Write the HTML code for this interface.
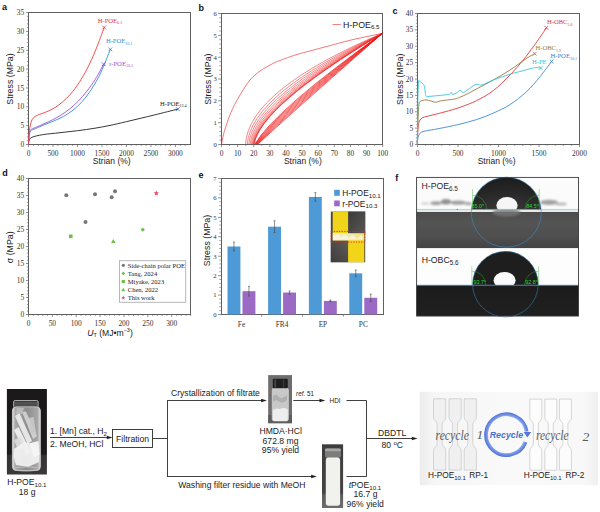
<!DOCTYPE html>
<html><head><meta charset="utf-8"><title>Figure</title><style>
html,body{margin:0;padding:0;background:#fff;width:600px;height:512px;overflow:hidden}
svg{display:block}
</style></head><body>
<svg width="600" height="512" viewBox="0 0 600 512">
<rect width="600" height="512" fill="#fff"/>
<text x="2" y="9.8" font-family='"Liberation Sans", sans-serif' font-size="9" text-anchor="start" fill="#111" font-weight="bold">a</text>
<rect x="28.5" y="12.5" width="162" height="132" fill="none" stroke="#606060" stroke-width="1.0"/>
<line x1="26" y1="144.5" x2="28.5" y2="144.5" stroke="#606060" stroke-width="0.7"/>
<text x="24.2" y="147.1" font-family='"Liberation Serif", serif' font-size="7.4" text-anchor="end" fill="#333">0</text>
<line x1="26" y1="125.65" x2="28.5" y2="125.65" stroke="#606060" stroke-width="0.7"/>
<text x="24.2" y="128.25" font-family='"Liberation Serif", serif' font-size="7.4" text-anchor="end" fill="#333">5</text>
<line x1="26" y1="106.8" x2="28.5" y2="106.8" stroke="#606060" stroke-width="0.7"/>
<text x="24.2" y="109.4" font-family='"Liberation Serif", serif' font-size="7.4" text-anchor="end" fill="#333">10</text>
<line x1="26" y1="87.95" x2="28.5" y2="87.95" stroke="#606060" stroke-width="0.7"/>
<text x="24.2" y="90.55" font-family='"Liberation Serif", serif' font-size="7.4" text-anchor="end" fill="#333">15</text>
<line x1="26" y1="69.1" x2="28.5" y2="69.1" stroke="#606060" stroke-width="0.7"/>
<text x="24.2" y="71.7" font-family='"Liberation Serif", serif' font-size="7.4" text-anchor="end" fill="#333">20</text>
<line x1="26" y1="50.25" x2="28.5" y2="50.25" stroke="#606060" stroke-width="0.7"/>
<text x="24.2" y="52.85" font-family='"Liberation Serif", serif' font-size="7.4" text-anchor="end" fill="#333">25</text>
<line x1="26" y1="31.4" x2="28.5" y2="31.4" stroke="#606060" stroke-width="0.7"/>
<text x="24.2" y="34" font-family='"Liberation Serif", serif' font-size="7.4" text-anchor="end" fill="#333">30</text>
<line x1="26" y1="12.55" x2="28.5" y2="12.55" stroke="#606060" stroke-width="0.7"/>
<text x="24.2" y="15.15" font-family='"Liberation Serif", serif' font-size="7.4" text-anchor="end" fill="#333">35</text>
<line x1="26.9" y1="140.73" x2="28.5" y2="140.73" stroke="#606060" stroke-width="0.6"/>
<line x1="26.9" y1="136.96" x2="28.5" y2="136.96" stroke="#606060" stroke-width="0.6"/>
<line x1="26.9" y1="133.19" x2="28.5" y2="133.19" stroke="#606060" stroke-width="0.6"/>
<line x1="26.9" y1="129.42" x2="28.5" y2="129.42" stroke="#606060" stroke-width="0.6"/>
<line x1="26.9" y1="121.88" x2="28.5" y2="121.88" stroke="#606060" stroke-width="0.6"/>
<line x1="26.9" y1="118.11" x2="28.5" y2="118.11" stroke="#606060" stroke-width="0.6"/>
<line x1="26.9" y1="114.34" x2="28.5" y2="114.34" stroke="#606060" stroke-width="0.6"/>
<line x1="26.9" y1="110.57" x2="28.5" y2="110.57" stroke="#606060" stroke-width="0.6"/>
<line x1="26.9" y1="103.03" x2="28.5" y2="103.03" stroke="#606060" stroke-width="0.6"/>
<line x1="26.9" y1="99.26" x2="28.5" y2="99.26" stroke="#606060" stroke-width="0.6"/>
<line x1="26.9" y1="95.49" x2="28.5" y2="95.49" stroke="#606060" stroke-width="0.6"/>
<line x1="26.9" y1="91.72" x2="28.5" y2="91.72" stroke="#606060" stroke-width="0.6"/>
<line x1="26.9" y1="84.18" x2="28.5" y2="84.18" stroke="#606060" stroke-width="0.6"/>
<line x1="26.9" y1="80.41" x2="28.5" y2="80.41" stroke="#606060" stroke-width="0.6"/>
<line x1="26.9" y1="76.64" x2="28.5" y2="76.64" stroke="#606060" stroke-width="0.6"/>
<line x1="26.9" y1="72.87" x2="28.5" y2="72.87" stroke="#606060" stroke-width="0.6"/>
<line x1="26.9" y1="65.33" x2="28.5" y2="65.33" stroke="#606060" stroke-width="0.6"/>
<line x1="26.9" y1="61.56" x2="28.5" y2="61.56" stroke="#606060" stroke-width="0.6"/>
<line x1="26.9" y1="57.79" x2="28.5" y2="57.79" stroke="#606060" stroke-width="0.6"/>
<line x1="26.9" y1="54.02" x2="28.5" y2="54.02" stroke="#606060" stroke-width="0.6"/>
<line x1="26.9" y1="46.48" x2="28.5" y2="46.48" stroke="#606060" stroke-width="0.6"/>
<line x1="26.9" y1="42.71" x2="28.5" y2="42.71" stroke="#606060" stroke-width="0.6"/>
<line x1="26.9" y1="38.94" x2="28.5" y2="38.94" stroke="#606060" stroke-width="0.6"/>
<line x1="26.9" y1="35.17" x2="28.5" y2="35.17" stroke="#606060" stroke-width="0.6"/>
<line x1="26.9" y1="27.63" x2="28.5" y2="27.63" stroke="#606060" stroke-width="0.6"/>
<line x1="26.9" y1="23.86" x2="28.5" y2="23.86" stroke="#606060" stroke-width="0.6"/>
<line x1="26.9" y1="20.09" x2="28.5" y2="20.09" stroke="#606060" stroke-width="0.6"/>
<line x1="26.9" y1="16.32" x2="28.5" y2="16.32" stroke="#606060" stroke-width="0.6"/>
<line x1="28.5" y1="144.5" x2="28.5" y2="147" stroke="#606060" stroke-width="0.7"/>
<text x="28.5" y="156" font-family='"Liberation Serif", serif' font-size="7.4" text-anchor="middle" fill="#333">0</text>
<line x1="52.98" y1="144.5" x2="52.98" y2="147" stroke="#606060" stroke-width="0.7"/>
<text x="52.98" y="156" font-family='"Liberation Serif", serif' font-size="7.4" text-anchor="middle" fill="#333">500</text>
<line x1="77.47" y1="144.5" x2="77.47" y2="147" stroke="#606060" stroke-width="0.7"/>
<text x="77.47" y="156" font-family='"Liberation Serif", serif' font-size="7.4" text-anchor="middle" fill="#333">1000</text>
<line x1="101.95" y1="144.5" x2="101.95" y2="147" stroke="#606060" stroke-width="0.7"/>
<text x="101.95" y="156" font-family='"Liberation Serif", serif' font-size="7.4" text-anchor="middle" fill="#333">1500</text>
<line x1="126.44" y1="144.5" x2="126.44" y2="147" stroke="#606060" stroke-width="0.7"/>
<text x="126.44" y="156" font-family='"Liberation Serif", serif' font-size="7.4" text-anchor="middle" fill="#333">2000</text>
<line x1="150.93" y1="144.5" x2="150.93" y2="147" stroke="#606060" stroke-width="0.7"/>
<text x="150.93" y="156" font-family='"Liberation Serif", serif' font-size="7.4" text-anchor="middle" fill="#333">2500</text>
<line x1="175.41" y1="144.5" x2="175.41" y2="147" stroke="#606060" stroke-width="0.7"/>
<text x="175.41" y="156" font-family='"Liberation Serif", serif' font-size="7.4" text-anchor="middle" fill="#333">3000</text>
<line x1="33.4" y1="144.5" x2="33.4" y2="146" stroke="#606060" stroke-width="0.6"/>
<line x1="38.29" y1="144.5" x2="38.29" y2="146" stroke="#606060" stroke-width="0.6"/>
<line x1="43.19" y1="144.5" x2="43.19" y2="146" stroke="#606060" stroke-width="0.6"/>
<line x1="48.09" y1="144.5" x2="48.09" y2="146" stroke="#606060" stroke-width="0.6"/>
<line x1="57.88" y1="144.5" x2="57.88" y2="146" stroke="#606060" stroke-width="0.6"/>
<line x1="62.78" y1="144.5" x2="62.78" y2="146" stroke="#606060" stroke-width="0.6"/>
<line x1="67.68" y1="144.5" x2="67.68" y2="146" stroke="#606060" stroke-width="0.6"/>
<line x1="72.57" y1="144.5" x2="72.57" y2="146" stroke="#606060" stroke-width="0.6"/>
<line x1="82.37" y1="144.5" x2="82.37" y2="146" stroke="#606060" stroke-width="0.6"/>
<line x1="87.26" y1="144.5" x2="87.26" y2="146" stroke="#606060" stroke-width="0.6"/>
<line x1="92.16" y1="144.5" x2="92.16" y2="146" stroke="#606060" stroke-width="0.6"/>
<line x1="97.06" y1="144.5" x2="97.06" y2="146" stroke="#606060" stroke-width="0.6"/>
<line x1="106.85" y1="144.5" x2="106.85" y2="146" stroke="#606060" stroke-width="0.6"/>
<line x1="111.75" y1="144.5" x2="111.75" y2="146" stroke="#606060" stroke-width="0.6"/>
<line x1="116.65" y1="144.5" x2="116.65" y2="146" stroke="#606060" stroke-width="0.6"/>
<line x1="121.54" y1="144.5" x2="121.54" y2="146" stroke="#606060" stroke-width="0.6"/>
<line x1="131.34" y1="144.5" x2="131.34" y2="146" stroke="#606060" stroke-width="0.6"/>
<line x1="136.23" y1="144.5" x2="136.23" y2="146" stroke="#606060" stroke-width="0.6"/>
<line x1="141.13" y1="144.5" x2="141.13" y2="146" stroke="#606060" stroke-width="0.6"/>
<line x1="146.03" y1="144.5" x2="146.03" y2="146" stroke="#606060" stroke-width="0.6"/>
<line x1="155.82" y1="144.5" x2="155.82" y2="146" stroke="#606060" stroke-width="0.6"/>
<line x1="160.72" y1="144.5" x2="160.72" y2="146" stroke="#606060" stroke-width="0.6"/>
<line x1="165.62" y1="144.5" x2="165.62" y2="146" stroke="#606060" stroke-width="0.6"/>
<line x1="170.51" y1="144.5" x2="170.51" y2="146" stroke="#606060" stroke-width="0.6"/>
<line x1="180.31" y1="144.5" x2="180.31" y2="146" stroke="#606060" stroke-width="0.6"/>
<line x1="185.2" y1="144.5" x2="185.2" y2="146" stroke="#606060" stroke-width="0.6"/>
<text transform="translate(13,79) rotate(-90)" font-family='"Liberation Sans", sans-serif' font-size="8.8" text-anchor="middle" fill="#1a1a1a">Stress (MPa)</text>
<text x="111.75" y="164.2" font-family='"Liberation Sans", sans-serif' font-size="8.5" text-anchor="middle" fill="#1a1a1a">Strian (%)</text>
<path d="M28.5,144.5 C28.57,143.88 28.32,142 28.9,140.8 C29.48,139.6 29.72,138.32 32,137.3 C34.28,136.28 37.93,135.47 42.6,134.7 C47.27,133.93 54.15,133.37 60,132.7 C65.85,132.03 71.87,131.45 77.7,130.7 C83.53,129.95 89.62,129.08 95,128.2 C100.38,127.32 104.72,126.5 110,125.4 C115.28,124.3 119.33,123.33 126.7,121.6 C134.07,119.87 145.68,117.08 154.2,115 C162.72,112.92 173.87,110.08 177.8,109.1" fill="none" stroke="#222" stroke-width="0.9"/>
<path d="M28.5,144.5 C28.6,143.08 28.75,138.25 29.1,136 C29.45,133.75 29.53,132.23 30.6,131 C31.67,129.77 33.13,129.67 35.5,128.6 C37.87,127.53 41.68,125.9 44.8,124.6 C47.92,123.3 51.07,122.17 54.2,120.8 C57.33,119.43 60.48,118.17 63.6,116.4 C66.72,114.63 69.8,112.68 72.9,110.2 C76,107.72 79.08,105.02 82.2,101.5 C85.32,97.98 88.47,93.98 91.6,89.1 C94.73,84.22 97.88,78.82 101,72.2 C104.12,65.58 108.75,53.2 110.3,49.4" fill="none" stroke="#2f8ddc" stroke-width="0.9"/>
<path d="M28.5,144.5 C28.58,143.08 28.7,138.37 29,136 C29.3,133.63 29.22,131.72 30.3,130.3 C31.38,128.88 33.22,128.58 35.5,127.5 C37.78,126.42 41.15,125.08 44,123.8 C46.85,122.52 49.75,121.27 52.6,119.8 C55.45,118.33 58.27,116.8 61.1,115 C63.93,113.2 66.77,111.28 69.6,109 C72.43,106.72 75.27,104.2 78.1,101.3 C80.93,98.4 83.75,95.25 86.6,91.6 C89.45,87.95 92.35,83.97 95.2,79.4 C98.05,74.83 102.28,66.73 103.7,64.2" fill="none" stroke="#9c4fd0" stroke-width="0.9"/>
<path d="M28.5,144.5 C28.55,143.08 28.65,138.37 28.8,136 C28.95,133.63 28.87,133 29.4,130.3 C29.93,127.6 30.68,122.3 32,119.8 C33.32,117.3 35.02,116.57 37.3,115.3 C39.58,114.03 42.92,113.38 45.7,112.2 C48.48,111.02 51.22,109.88 54,108.2 C56.78,106.52 59.6,104.5 62.4,102.1 C65.2,99.7 68.02,97.05 70.8,93.8 C73.58,90.55 76.32,86.88 79.1,82.6 C81.88,78.32 84.72,73.58 87.5,68.1 C90.28,62.62 93.02,56.47 95.8,49.7 C98.58,42.93 102.8,31.2 104.2,27.5" fill="none" stroke="#f03c3c" stroke-width="0.9"/>
<line x1="102.3" y1="25.6" x2="106.1" y2="29.4" stroke="#e8333a" stroke-width="0.8"/>
<line x1="102.3" y1="29.4" x2="106.1" y2="25.6" stroke="#e8333a" stroke-width="0.8"/>
<line x1="108.4" y1="47.5" x2="112.2" y2="51.3" stroke="#3a7fd0" stroke-width="0.8"/>
<line x1="108.4" y1="51.3" x2="112.2" y2="47.5" stroke="#3a7fd0" stroke-width="0.8"/>
<line x1="101.8" y1="62.3" x2="105.6" y2="66.1" stroke="#7a3fc0" stroke-width="0.8"/>
<line x1="101.8" y1="66.1" x2="105.6" y2="62.3" stroke="#7a3fc0" stroke-width="0.8"/>
<line x1="175.9" y1="107.2" x2="179.7" y2="111" stroke="#3a5fb0" stroke-width="0.8"/>
<line x1="175.9" y1="111" x2="179.7" y2="107.2" stroke="#3a5fb0" stroke-width="0.8"/>
<text x="97.7" y="22.5" font-family='"Liberation Serif", serif' font-size="6.6" fill="#e8333a" text-anchor="start">H-POE<tspan font-size="4.09" dy="1.45">6.5</tspan></text>
<text x="105.9" y="43.3" font-family='"Liberation Serif", serif' font-size="6.6" fill="#3a8ad8" text-anchor="start">H-POE<tspan font-size="4.09" dy="1.45">10.1</tspan></text>
<text x="109.2" y="65.6" font-family='"Liberation Serif", serif' font-size="6.6" fill="#9b4fd0" text-anchor="start">r-POE<tspan font-size="4.09" dy="1.45">10.3</tspan></text>
<text x="160.1" y="105.5" font-family='"Liberation Serif", serif' font-size="6.6" fill="#222" text-anchor="start">H-POE<tspan font-size="4.09" dy="1.45">13.4</tspan></text>
<text x="198.5" y="11.3" font-family='"Liberation Sans", sans-serif' font-size="9" text-anchor="start" fill="#111" font-weight="bold">b</text>
<rect x="221.5" y="13.5" width="161" height="131" fill="none" stroke="#606060" stroke-width="1.0"/>
<line x1="218.1" y1="144.5" x2="221.5" y2="144.5" stroke="#606060" stroke-width="0.7"/>
<text x="216.8" y="146.9" font-family='"Liberation Serif", serif' font-size="6.7" text-anchor="end" fill="#333">0</text>
<line x1="218.1" y1="122.67" x2="221.5" y2="122.67" stroke="#606060" stroke-width="0.7"/>
<text x="216.8" y="125.07" font-family='"Liberation Serif", serif' font-size="6.7" text-anchor="end" fill="#333">1</text>
<line x1="218.1" y1="100.84" x2="221.5" y2="100.84" stroke="#606060" stroke-width="0.7"/>
<text x="216.8" y="103.24" font-family='"Liberation Serif", serif' font-size="6.7" text-anchor="end" fill="#333">2</text>
<line x1="218.1" y1="79.01" x2="221.5" y2="79.01" stroke="#606060" stroke-width="0.7"/>
<text x="216.8" y="81.41" font-family='"Liberation Serif", serif' font-size="6.7" text-anchor="end" fill="#333">3</text>
<line x1="218.1" y1="57.18" x2="221.5" y2="57.18" stroke="#606060" stroke-width="0.7"/>
<text x="216.8" y="59.58" font-family='"Liberation Serif", serif' font-size="6.7" text-anchor="end" fill="#333">4</text>
<line x1="218.1" y1="35.35" x2="221.5" y2="35.35" stroke="#606060" stroke-width="0.7"/>
<text x="216.8" y="37.75" font-family='"Liberation Serif", serif' font-size="6.7" text-anchor="end" fill="#333">5</text>
<line x1="218.1" y1="13.52" x2="221.5" y2="13.52" stroke="#606060" stroke-width="0.7"/>
<text x="216.8" y="15.92" font-family='"Liberation Serif", serif' font-size="6.7" text-anchor="end" fill="#333">6</text>
<line x1="219.3" y1="140.13" x2="221.5" y2="140.13" stroke="#606060" stroke-width="0.6"/>
<line x1="219.3" y1="135.77" x2="221.5" y2="135.77" stroke="#606060" stroke-width="0.6"/>
<line x1="219.3" y1="131.4" x2="221.5" y2="131.4" stroke="#606060" stroke-width="0.6"/>
<line x1="219.3" y1="127.04" x2="221.5" y2="127.04" stroke="#606060" stroke-width="0.6"/>
<line x1="219.3" y1="118.3" x2="221.5" y2="118.3" stroke="#606060" stroke-width="0.6"/>
<line x1="219.3" y1="113.94" x2="221.5" y2="113.94" stroke="#606060" stroke-width="0.6"/>
<line x1="219.3" y1="109.57" x2="221.5" y2="109.57" stroke="#606060" stroke-width="0.6"/>
<line x1="219.3" y1="105.21" x2="221.5" y2="105.21" stroke="#606060" stroke-width="0.6"/>
<line x1="219.3" y1="96.47" x2="221.5" y2="96.47" stroke="#606060" stroke-width="0.6"/>
<line x1="219.3" y1="92.11" x2="221.5" y2="92.11" stroke="#606060" stroke-width="0.6"/>
<line x1="219.3" y1="87.74" x2="221.5" y2="87.74" stroke="#606060" stroke-width="0.6"/>
<line x1="219.3" y1="83.38" x2="221.5" y2="83.38" stroke="#606060" stroke-width="0.6"/>
<line x1="219.3" y1="74.64" x2="221.5" y2="74.64" stroke="#606060" stroke-width="0.6"/>
<line x1="219.3" y1="70.28" x2="221.5" y2="70.28" stroke="#606060" stroke-width="0.6"/>
<line x1="219.3" y1="65.91" x2="221.5" y2="65.91" stroke="#606060" stroke-width="0.6"/>
<line x1="219.3" y1="61.55" x2="221.5" y2="61.55" stroke="#606060" stroke-width="0.6"/>
<line x1="219.3" y1="52.81" x2="221.5" y2="52.81" stroke="#606060" stroke-width="0.6"/>
<line x1="219.3" y1="48.45" x2="221.5" y2="48.45" stroke="#606060" stroke-width="0.6"/>
<line x1="219.3" y1="44.08" x2="221.5" y2="44.08" stroke="#606060" stroke-width="0.6"/>
<line x1="219.3" y1="39.72" x2="221.5" y2="39.72" stroke="#606060" stroke-width="0.6"/>
<line x1="219.3" y1="30.98" x2="221.5" y2="30.98" stroke="#606060" stroke-width="0.6"/>
<line x1="219.3" y1="26.62" x2="221.5" y2="26.62" stroke="#606060" stroke-width="0.6"/>
<line x1="219.3" y1="22.25" x2="221.5" y2="22.25" stroke="#606060" stroke-width="0.6"/>
<line x1="219.3" y1="17.89" x2="221.5" y2="17.89" stroke="#606060" stroke-width="0.6"/>
<line x1="221.5" y1="144.5" x2="221.5" y2="147" stroke="#606060" stroke-width="0.7"/>
<text x="221.5" y="156" font-family='"Liberation Serif", serif' font-size="7.4" text-anchor="middle" fill="#333">0</text>
<line x1="237.62" y1="144.5" x2="237.62" y2="147" stroke="#606060" stroke-width="0.7"/>
<text x="237.62" y="156" font-family='"Liberation Serif", serif' font-size="7.4" text-anchor="middle" fill="#333">10</text>
<line x1="253.74" y1="144.5" x2="253.74" y2="147" stroke="#606060" stroke-width="0.7"/>
<text x="253.74" y="156" font-family='"Liberation Serif", serif' font-size="7.4" text-anchor="middle" fill="#333">20</text>
<line x1="269.86" y1="144.5" x2="269.86" y2="147" stroke="#606060" stroke-width="0.7"/>
<text x="269.86" y="156" font-family='"Liberation Serif", serif' font-size="7.4" text-anchor="middle" fill="#333">30</text>
<line x1="285.98" y1="144.5" x2="285.98" y2="147" stroke="#606060" stroke-width="0.7"/>
<text x="285.98" y="156" font-family='"Liberation Serif", serif' font-size="7.4" text-anchor="middle" fill="#333">40</text>
<line x1="302.1" y1="144.5" x2="302.1" y2="147" stroke="#606060" stroke-width="0.7"/>
<text x="302.1" y="156" font-family='"Liberation Serif", serif' font-size="7.4" text-anchor="middle" fill="#333">50</text>
<line x1="318.22" y1="144.5" x2="318.22" y2="147" stroke="#606060" stroke-width="0.7"/>
<text x="318.22" y="156" font-family='"Liberation Serif", serif' font-size="7.4" text-anchor="middle" fill="#333">60</text>
<line x1="334.34" y1="144.5" x2="334.34" y2="147" stroke="#606060" stroke-width="0.7"/>
<text x="334.34" y="156" font-family='"Liberation Serif", serif' font-size="7.4" text-anchor="middle" fill="#333">70</text>
<line x1="350.46" y1="144.5" x2="350.46" y2="147" stroke="#606060" stroke-width="0.7"/>
<text x="350.46" y="156" font-family='"Liberation Serif", serif' font-size="7.4" text-anchor="middle" fill="#333">80</text>
<line x1="366.58" y1="144.5" x2="366.58" y2="147" stroke="#606060" stroke-width="0.7"/>
<text x="366.58" y="156" font-family='"Liberation Serif", serif' font-size="7.4" text-anchor="middle" fill="#333">90</text>
<line x1="382.7" y1="144.5" x2="382.7" y2="147" stroke="#606060" stroke-width="0.7"/>
<text x="382.7" y="156" font-family='"Liberation Serif", serif' font-size="7.4" text-anchor="middle" fill="#333">100</text>
<line x1="229.56" y1="144.5" x2="229.56" y2="146" stroke="#606060" stroke-width="0.6"/>
<line x1="245.68" y1="144.5" x2="245.68" y2="146" stroke="#606060" stroke-width="0.6"/>
<line x1="261.8" y1="144.5" x2="261.8" y2="146" stroke="#606060" stroke-width="0.6"/>
<line x1="277.92" y1="144.5" x2="277.92" y2="146" stroke="#606060" stroke-width="0.6"/>
<line x1="294.04" y1="144.5" x2="294.04" y2="146" stroke="#606060" stroke-width="0.6"/>
<line x1="310.16" y1="144.5" x2="310.16" y2="146" stroke="#606060" stroke-width="0.6"/>
<line x1="326.28" y1="144.5" x2="326.28" y2="146" stroke="#606060" stroke-width="0.6"/>
<line x1="342.4" y1="144.5" x2="342.4" y2="146" stroke="#606060" stroke-width="0.6"/>
<line x1="358.52" y1="144.5" x2="358.52" y2="146" stroke="#606060" stroke-width="0.6"/>
<line x1="374.64" y1="144.5" x2="374.64" y2="146" stroke="#606060" stroke-width="0.6"/>
<text transform="translate(210.5,79.2) rotate(-90)" font-family='"Liberation Sans", sans-serif' font-size="8.8" text-anchor="middle" fill="#1a1a1a">Stress (MPa)</text>
<text x="302.85" y="164.3" font-family='"Liberation Sans", sans-serif' font-size="8.5" text-anchor="middle" fill="#1a1a1a">Strian (%)</text>
<line x1="332.5" y1="24.5" x2="340.8" y2="24.5" stroke="#f06060" stroke-width="0.8"/>
<text x="343" y="27.5" font-family='"Liberation Sans", sans-serif' font-size="8.8" fill="#222" text-anchor="start">H-POE<tspan font-size="6.2" dy="1.94">6.5</tspan></text>
<path d="M221.5,144.5 C221.55,144.22 221.33,144.97 221.8,142.8 C222.27,140.63 223.02,135.97 224.3,131.5 C225.58,127.03 227.77,120.5 229.5,116 C231.23,111.5 232.95,108 234.7,104.5 C236.45,101 238.28,97.92 240,95 C241.72,92.08 243.33,89.5 245,87 C246.67,84.5 248.33,82 250,80 C251.67,78 253.33,76.5 255,75 C256.67,73.5 258.33,72.17 260,71 C261.67,69.83 263.33,69 265,68 C266.67,67 268.33,65.92 270,65 C271.67,64.08 273.33,63.25 275,62.5 C276.67,61.75 277.5,61.45 280,60.5 C282.5,59.55 286.67,57.95 290,56.8 C293.33,55.65 295.83,54.8 300,53.6 C304.17,52.4 310,50.93 315,49.6 C320,48.27 324.17,47.15 330,45.6 C335.83,44.05 343.33,41.92 350,40.3 C356.67,38.68 364.62,37.05 370,35.9 C375.38,34.75 380.25,33.82 382.3,33.4" fill="none" stroke="#f03c3c" stroke-width="0.7"/>
<path d="M245.5,144.1 Q249,90 382.3,33.4" fill="none" stroke="#f02c2c" stroke-width="0.6" stroke-opacity="0.95"/>
<path d="M247.26,144.1 Q251.48,93.31 382.3,33.4" fill="none" stroke="#f02c2c" stroke-width="0.6" stroke-opacity="0.95"/>
<path d="M248.8,144.1 Q253.66,96.21 382.3,33.4" fill="none" stroke="#f02c2c" stroke-width="0.6" stroke-opacity="0.95"/>
<path d="M250.12,144.1 Q255.52,98.7 382.3,33.4" fill="none" stroke="#f02c2c" stroke-width="0.6" stroke-opacity="0.95"/>
<path d="M251.24,144.1 Q257.1,100.8 382.3,33.4" fill="none" stroke="#f02c2c" stroke-width="0.6" stroke-opacity="0.95"/>
<path d="M252.15,144.1 Q258.39,102.52 382.3,33.4" fill="none" stroke="#f02c2c" stroke-width="0.6" stroke-opacity="0.95"/>
<path d="M252.87,144.1 Q259.4,103.87 382.3,33.4" fill="none" stroke="#f02c2c" stroke-width="0.6" stroke-opacity="0.95"/>
<path d="M253.4,144.1 Q260.15,104.87 382.3,33.4" fill="none" stroke="#f02c2c" stroke-width="0.6" stroke-opacity="0.95"/>
<path d="M253.75,144.1 Q260.65,105.54 382.3,33.4" fill="none" stroke="#f02c2c" stroke-width="0.6" stroke-opacity="0.95"/>
<path d="M253.95,144.1 Q260.92,105.9 382.3,33.4" fill="none" stroke="#f02c2c" stroke-width="0.6" stroke-opacity="0.95"/>
<path d="M254,144.1 Q261,106 382.3,33.4" fill="none" stroke="#f02c2c" stroke-width="0.6" stroke-opacity="0.95"/>
<path d="M254.8,144.1 Q275,110 382.3,33.4" fill="none" stroke="#ee1010" stroke-width="0.65" stroke-opacity="1.0"/>
<path d="M255.2,144.1 Q276.38,111 382.3,33.4" fill="none" stroke="#ee1010" stroke-width="0.65" stroke-opacity="1.0"/>
<path d="M255.6,144.1 Q277.75,112 382.3,33.4" fill="none" stroke="#ee1010" stroke-width="0.65" stroke-opacity="1.0"/>
<path d="M256,144.1 Q279.12,113 382.3,33.4" fill="none" stroke="#ee1010" stroke-width="0.65" stroke-opacity="1.0"/>
<path d="M256.4,144.1 Q280.5,114 382.3,33.4" fill="none" stroke="#ee1010" stroke-width="0.65" stroke-opacity="1.0"/>
<path d="M256.8,144.1 Q281.88,115 382.3,33.4" fill="none" stroke="#ee1010" stroke-width="0.65" stroke-opacity="1.0"/>
<path d="M257.2,144.1 Q283.25,116 382.3,33.4" fill="none" stroke="#ee1010" stroke-width="0.65" stroke-opacity="1.0"/>
<path d="M257.6,144.1 Q284.62,117 382.3,33.4" fill="none" stroke="#ee1010" stroke-width="0.65" stroke-opacity="1.0"/>
<path d="M258,144.1 Q286,118 382.3,33.4" fill="none" stroke="#ee1010" stroke-width="0.65" stroke-opacity="1.0"/>
<text x="392.5" y="13.6" font-family='"Liberation Sans", sans-serif' font-size="9" text-anchor="start" fill="#111" font-weight="bold">c</text>
<rect x="417.5" y="13.5" width="162" height="131" fill="none" stroke="#606060" stroke-width="1.0"/>
<line x1="415" y1="144.5" x2="417.5" y2="144.5" stroke="#606060" stroke-width="0.7"/>
<text x="413.2" y="147.1" font-family='"Liberation Serif", serif' font-size="7.4" text-anchor="end" fill="#333">0</text>
<line x1="415" y1="128.12" x2="417.5" y2="128.12" stroke="#606060" stroke-width="0.7"/>
<text x="413.2" y="130.72" font-family='"Liberation Serif", serif' font-size="7.4" text-anchor="end" fill="#333">5</text>
<line x1="415" y1="111.75" x2="417.5" y2="111.75" stroke="#606060" stroke-width="0.7"/>
<text x="413.2" y="114.35" font-family='"Liberation Serif", serif' font-size="7.4" text-anchor="end" fill="#333">10</text>
<line x1="415" y1="95.38" x2="417.5" y2="95.38" stroke="#606060" stroke-width="0.7"/>
<text x="413.2" y="97.97" font-family='"Liberation Serif", serif' font-size="7.4" text-anchor="end" fill="#333">15</text>
<line x1="415" y1="79" x2="417.5" y2="79" stroke="#606060" stroke-width="0.7"/>
<text x="413.2" y="81.6" font-family='"Liberation Serif", serif' font-size="7.4" text-anchor="end" fill="#333">20</text>
<line x1="415" y1="62.62" x2="417.5" y2="62.62" stroke="#606060" stroke-width="0.7"/>
<text x="413.2" y="65.22" font-family='"Liberation Serif", serif' font-size="7.4" text-anchor="end" fill="#333">25</text>
<line x1="415" y1="46.25" x2="417.5" y2="46.25" stroke="#606060" stroke-width="0.7"/>
<text x="413.2" y="48.85" font-family='"Liberation Serif", serif' font-size="7.4" text-anchor="end" fill="#333">30</text>
<line x1="415" y1="29.88" x2="417.5" y2="29.88" stroke="#606060" stroke-width="0.7"/>
<text x="413.2" y="32.48" font-family='"Liberation Serif", serif' font-size="7.4" text-anchor="end" fill="#333">35</text>
<line x1="415" y1="13.5" x2="417.5" y2="13.5" stroke="#606060" stroke-width="0.7"/>
<text x="413.2" y="16.1" font-family='"Liberation Serif", serif' font-size="7.4" text-anchor="end" fill="#333">40</text>
<line x1="415.9" y1="141.22" x2="417.5" y2="141.22" stroke="#606060" stroke-width="0.6"/>
<line x1="415.9" y1="137.95" x2="417.5" y2="137.95" stroke="#606060" stroke-width="0.6"/>
<line x1="415.9" y1="134.68" x2="417.5" y2="134.68" stroke="#606060" stroke-width="0.6"/>
<line x1="415.9" y1="131.4" x2="417.5" y2="131.4" stroke="#606060" stroke-width="0.6"/>
<line x1="415.9" y1="124.85" x2="417.5" y2="124.85" stroke="#606060" stroke-width="0.6"/>
<line x1="415.9" y1="121.58" x2="417.5" y2="121.58" stroke="#606060" stroke-width="0.6"/>
<line x1="415.9" y1="118.3" x2="417.5" y2="118.3" stroke="#606060" stroke-width="0.6"/>
<line x1="415.9" y1="115.03" x2="417.5" y2="115.03" stroke="#606060" stroke-width="0.6"/>
<line x1="415.9" y1="108.47" x2="417.5" y2="108.47" stroke="#606060" stroke-width="0.6"/>
<line x1="415.9" y1="105.2" x2="417.5" y2="105.2" stroke="#606060" stroke-width="0.6"/>
<line x1="415.9" y1="101.93" x2="417.5" y2="101.93" stroke="#606060" stroke-width="0.6"/>
<line x1="415.9" y1="98.65" x2="417.5" y2="98.65" stroke="#606060" stroke-width="0.6"/>
<line x1="415.9" y1="92.1" x2="417.5" y2="92.1" stroke="#606060" stroke-width="0.6"/>
<line x1="415.9" y1="88.83" x2="417.5" y2="88.83" stroke="#606060" stroke-width="0.6"/>
<line x1="415.9" y1="85.55" x2="417.5" y2="85.55" stroke="#606060" stroke-width="0.6"/>
<line x1="415.9" y1="82.28" x2="417.5" y2="82.28" stroke="#606060" stroke-width="0.6"/>
<line x1="415.9" y1="75.73" x2="417.5" y2="75.73" stroke="#606060" stroke-width="0.6"/>
<line x1="415.9" y1="72.45" x2="417.5" y2="72.45" stroke="#606060" stroke-width="0.6"/>
<line x1="415.9" y1="69.17" x2="417.5" y2="69.17" stroke="#606060" stroke-width="0.6"/>
<line x1="415.9" y1="65.9" x2="417.5" y2="65.9" stroke="#606060" stroke-width="0.6"/>
<line x1="415.9" y1="59.35" x2="417.5" y2="59.35" stroke="#606060" stroke-width="0.6"/>
<line x1="415.9" y1="56.08" x2="417.5" y2="56.08" stroke="#606060" stroke-width="0.6"/>
<line x1="415.9" y1="52.8" x2="417.5" y2="52.8" stroke="#606060" stroke-width="0.6"/>
<line x1="415.9" y1="49.53" x2="417.5" y2="49.53" stroke="#606060" stroke-width="0.6"/>
<line x1="415.9" y1="42.98" x2="417.5" y2="42.98" stroke="#606060" stroke-width="0.6"/>
<line x1="415.9" y1="39.7" x2="417.5" y2="39.7" stroke="#606060" stroke-width="0.6"/>
<line x1="415.9" y1="36.42" x2="417.5" y2="36.42" stroke="#606060" stroke-width="0.6"/>
<line x1="415.9" y1="33.15" x2="417.5" y2="33.15" stroke="#606060" stroke-width="0.6"/>
<line x1="415.9" y1="26.6" x2="417.5" y2="26.6" stroke="#606060" stroke-width="0.6"/>
<line x1="415.9" y1="23.33" x2="417.5" y2="23.33" stroke="#606060" stroke-width="0.6"/>
<line x1="415.9" y1="20.05" x2="417.5" y2="20.05" stroke="#606060" stroke-width="0.6"/>
<line x1="415.9" y1="16.78" x2="417.5" y2="16.78" stroke="#606060" stroke-width="0.6"/>
<line x1="417.5" y1="144.5" x2="417.5" y2="147" stroke="#606060" stroke-width="0.7"/>
<text x="417.5" y="156" font-family='"Liberation Serif", serif' font-size="7.4" text-anchor="middle" fill="#333">0</text>
<line x1="458" y1="144.5" x2="458" y2="147" stroke="#606060" stroke-width="0.7"/>
<text x="458" y="156" font-family='"Liberation Serif", serif' font-size="7.4" text-anchor="middle" fill="#333">500</text>
<line x1="498.5" y1="144.5" x2="498.5" y2="147" stroke="#606060" stroke-width="0.7"/>
<text x="498.5" y="156" font-family='"Liberation Serif", serif' font-size="7.4" text-anchor="middle" fill="#333">1000</text>
<line x1="539" y1="144.5" x2="539" y2="147" stroke="#606060" stroke-width="0.7"/>
<text x="539" y="156" font-family='"Liberation Serif", serif' font-size="7.4" text-anchor="middle" fill="#333">1500</text>
<line x1="579.5" y1="144.5" x2="579.5" y2="147" stroke="#606060" stroke-width="0.7"/>
<text x="579.5" y="156" font-family='"Liberation Serif", serif' font-size="7.4" text-anchor="middle" fill="#333">2000</text>
<line x1="425.6" y1="144.5" x2="425.6" y2="146" stroke="#606060" stroke-width="0.6"/>
<line x1="433.7" y1="144.5" x2="433.7" y2="146" stroke="#606060" stroke-width="0.6"/>
<line x1="441.8" y1="144.5" x2="441.8" y2="146" stroke="#606060" stroke-width="0.6"/>
<line x1="449.9" y1="144.5" x2="449.9" y2="146" stroke="#606060" stroke-width="0.6"/>
<line x1="466.1" y1="144.5" x2="466.1" y2="146" stroke="#606060" stroke-width="0.6"/>
<line x1="474.2" y1="144.5" x2="474.2" y2="146" stroke="#606060" stroke-width="0.6"/>
<line x1="482.3" y1="144.5" x2="482.3" y2="146" stroke="#606060" stroke-width="0.6"/>
<line x1="490.4" y1="144.5" x2="490.4" y2="146" stroke="#606060" stroke-width="0.6"/>
<line x1="506.6" y1="144.5" x2="506.6" y2="146" stroke="#606060" stroke-width="0.6"/>
<line x1="514.7" y1="144.5" x2="514.7" y2="146" stroke="#606060" stroke-width="0.6"/>
<line x1="522.8" y1="144.5" x2="522.8" y2="146" stroke="#606060" stroke-width="0.6"/>
<line x1="530.9" y1="144.5" x2="530.9" y2="146" stroke="#606060" stroke-width="0.6"/>
<line x1="547.1" y1="144.5" x2="547.1" y2="146" stroke="#606060" stroke-width="0.6"/>
<line x1="555.2" y1="144.5" x2="555.2" y2="146" stroke="#606060" stroke-width="0.6"/>
<line x1="563.3" y1="144.5" x2="563.3" y2="146" stroke="#606060" stroke-width="0.6"/>
<line x1="571.4" y1="144.5" x2="571.4" y2="146" stroke="#606060" stroke-width="0.6"/>
<text transform="translate(402.6,79.3) rotate(-90)" font-family='"Liberation Sans", sans-serif' font-size="8.8" text-anchor="middle" fill="#1a1a1a">Stress (MPa)</text>
<text x="496.6" y="164.3" font-family='"Liberation Sans", sans-serif' font-size="8.5" text-anchor="middle" fill="#1a1a1a">Strian (%)</text>
<path d="M417.3,144.3 C417.4,143.25 417.57,139.63 417.9,138 C418.23,136.37 418.42,135.58 419.3,134.5 C420.18,133.42 419.95,132.48 423.2,131.5 C426.45,130.52 432.93,129.77 438.8,128.6 C444.67,127.43 452.08,126.02 458.4,124.5 C464.72,122.98 470.88,121.4 476.7,119.5 C482.52,117.6 487.75,115.58 493.3,113.1 C498.85,110.62 504.43,108.2 510,104.6 C515.57,101 521.7,96.15 526.7,91.5 C531.7,86.85 535.85,81.72 540,76.7 C544.15,71.68 549.67,63.95 551.6,61.4" fill="none" stroke="#3a8ad8" stroke-width="0.9"/>
<path d="M417.3,144.3 C417.38,142.25 417.53,135.6 417.8,132 C418.07,128.4 418.17,125.05 418.9,122.7 C419.63,120.35 419.85,119.2 422.2,117.9 C424.55,116.6 429.2,115.92 433,114.9 C436.8,113.88 440.5,113.07 445,111.8 C449.5,110.53 454.72,109.17 460,107.3 C465.28,105.43 471.15,103.38 476.7,100.6 C482.25,97.82 487.75,94.87 493.3,90.6 C498.85,86.33 505,80.1 510,75 C515,69.9 519.42,64.72 523.3,60 C527.18,55.28 530.8,50.07 533.3,46.7 C535.8,43.33 536.12,42.95 538.3,39.8 C540.48,36.65 545.05,29.8 546.4,27.8" fill="none" stroke="#e03a3a" stroke-width="0.9"/>
<path d="M417.3,144.3 C417.38,141.08 417.53,131.52 417.8,125 C418.07,118.48 418.48,109.15 418.9,105.2 C419.32,101.25 419.1,102.18 420.3,101.3 C421.5,100.42 424.32,99.95 426.1,99.9 C427.88,99.85 429.37,100.62 431,101 C432.63,101.38 434.27,102.22 435.9,102.2 C437.53,102.18 437.7,101.43 440.8,100.9 C443.9,100.37 451.3,99.62 454.5,99 C457.7,98.38 457.73,98.12 460,97.2 C462.27,96.28 465.32,94.9 468.1,93.5 C470.88,92.1 472.5,91.05 476.7,88.8 C480.9,86.55 487.75,83.13 493.3,80 C498.85,76.87 504.43,73.62 510,70 C515.57,66.38 522.58,61.02 526.7,58.3 C530.82,55.58 533.37,54.47 534.7,53.7" fill="none" stroke="#9a7a3a" stroke-width="0.9"/>
<path d="M417.3,144.3 C417.35,140.25 417.48,128.22 417.6,120 C417.72,111.78 417.85,101.33 418,95 C418.15,88.67 418.35,84.38 418.5,82 C418.65,79.62 418.6,80.75 418.9,80.7 C419.2,80.65 419.53,81.07 420.3,81.7 C421.07,82.33 422.78,83.58 423.5,84.5 C424.22,85.42 424.32,85.95 424.6,87.2 C424.88,88.45 424.95,90.47 425.2,92 C425.45,93.53 425.47,95.67 426.1,96.4 C426.73,97.13 427.02,96.53 429,96.4 C430.98,96.27 434.73,95.93 438,95.6 C441.27,95.27 446.52,94.83 448.6,94.4 C450.68,93.97 450.02,93.32 450.5,93 C450.98,92.68 451.17,92.27 451.5,92.5 C451.83,92.73 451.75,94.27 452.5,94.4 C453.25,94.53 454.7,93.98 456,93.3 C457.3,92.62 459.1,90.43 460.3,90.3 C461.5,90.17 461.92,92.63 463.2,92.5 C464.48,92.37 465.9,90.85 468,89.5 C470.1,88.15 473.52,85.15 475.8,84.4 C478.08,83.65 478.78,85.73 481.7,85 C484.62,84.27 488.58,81.8 493.3,80 C498.02,78.2 505.55,75.62 510,74.2 C514.45,72.78 516.38,72.48 520,71.5 C523.62,70.52 529.03,68.95 531.7,68.3 C534.37,67.65 534.5,67.65 536,67.6 C537.5,67.55 539.92,67.93 540.7,68" fill="none" stroke="#35c8d8" stroke-width="0.9"/>
<line x1="544.5" y1="25.9" x2="548.3" y2="29.7" stroke="#d83a3a" stroke-width="0.8"/>
<line x1="544.5" y1="29.7" x2="548.3" y2="25.9" stroke="#d83a3a" stroke-width="0.8"/>
<line x1="532.8" y1="51.8" x2="536.6" y2="55.6" stroke="#9a7a3a" stroke-width="0.8"/>
<line x1="532.8" y1="55.6" x2="536.6" y2="51.8" stroke="#9a7a3a" stroke-width="0.8"/>
<line x1="549.7" y1="59.5" x2="553.5" y2="63.3" stroke="#3a7fd0" stroke-width="0.8"/>
<line x1="549.7" y1="63.3" x2="553.5" y2="59.5" stroke="#3a7fd0" stroke-width="0.8"/>
<line x1="538.8" y1="66.1" x2="542.6" y2="69.9" stroke="#35c0d0" stroke-width="0.8"/>
<line x1="538.8" y1="69.9" x2="542.6" y2="66.1" stroke="#35c0d0" stroke-width="0.8"/>
<text x="547" y="24.2" font-family='"Liberation Serif", serif' font-size="6.6" fill="#d83a3a" text-anchor="start">H-OBC<tspan font-size="4.09" dy="1.45">5.6</tspan></text>
<text x="535.5" y="50.2" font-family='"Liberation Serif", serif' font-size="6.6" fill="#9a7a3a" text-anchor="start">H-OBC<tspan font-size="4.09" dy="1.45">1.9</tspan></text>
<text x="550.5" y="58.4" font-family='"Liberation Serif", serif' font-size="6.6" fill="#3a7fd0" text-anchor="start">H-POE<tspan font-size="4.09" dy="1.45">10.1</tspan></text>
<text x="532" y="64.1" font-family='"Liberation Serif", serif' font-size="6.6" text-anchor="start" fill="#35c0d0">H-PE</text>
<text x="2.3" y="176" font-family='"Liberation Sans", sans-serif' font-size="9" text-anchor="start" fill="#111" font-weight="bold">d</text>
<rect x="28.5" y="178.5" width="162" height="136" fill="none" stroke="#606060" stroke-width="1.0"/>
<line x1="26" y1="314.5" x2="28.5" y2="314.5" stroke="#606060" stroke-width="0.7"/>
<text x="24.2" y="317.1" font-family='"Liberation Serif", serif' font-size="7.4" text-anchor="end" fill="#333">0</text>
<line x1="26" y1="297.5" x2="28.5" y2="297.5" stroke="#606060" stroke-width="0.7"/>
<text x="24.2" y="300.1" font-family='"Liberation Serif", serif' font-size="7.4" text-anchor="end" fill="#333">5</text>
<line x1="26" y1="280.5" x2="28.5" y2="280.5" stroke="#606060" stroke-width="0.7"/>
<text x="24.2" y="283.1" font-family='"Liberation Serif", serif' font-size="7.4" text-anchor="end" fill="#333">10</text>
<line x1="26" y1="263.5" x2="28.5" y2="263.5" stroke="#606060" stroke-width="0.7"/>
<text x="24.2" y="266.1" font-family='"Liberation Serif", serif' font-size="7.4" text-anchor="end" fill="#333">15</text>
<line x1="26" y1="246.5" x2="28.5" y2="246.5" stroke="#606060" stroke-width="0.7"/>
<text x="24.2" y="249.1" font-family='"Liberation Serif", serif' font-size="7.4" text-anchor="end" fill="#333">20</text>
<line x1="26" y1="229.5" x2="28.5" y2="229.5" stroke="#606060" stroke-width="0.7"/>
<text x="24.2" y="232.1" font-family='"Liberation Serif", serif' font-size="7.4" text-anchor="end" fill="#333">25</text>
<line x1="26" y1="212.5" x2="28.5" y2="212.5" stroke="#606060" stroke-width="0.7"/>
<text x="24.2" y="215.1" font-family='"Liberation Serif", serif' font-size="7.4" text-anchor="end" fill="#333">30</text>
<line x1="26" y1="195.5" x2="28.5" y2="195.5" stroke="#606060" stroke-width="0.7"/>
<text x="24.2" y="198.1" font-family='"Liberation Serif", serif' font-size="7.4" text-anchor="end" fill="#333">35</text>
<line x1="26" y1="178.5" x2="28.5" y2="178.5" stroke="#606060" stroke-width="0.7"/>
<text x="24.2" y="181.1" font-family='"Liberation Serif", serif' font-size="7.4" text-anchor="end" fill="#333">40</text>
<line x1="26.9" y1="311.1" x2="28.5" y2="311.1" stroke="#606060" stroke-width="0.6"/>
<line x1="26.9" y1="307.7" x2="28.5" y2="307.7" stroke="#606060" stroke-width="0.6"/>
<line x1="26.9" y1="304.3" x2="28.5" y2="304.3" stroke="#606060" stroke-width="0.6"/>
<line x1="26.9" y1="300.9" x2="28.5" y2="300.9" stroke="#606060" stroke-width="0.6"/>
<line x1="26.9" y1="294.1" x2="28.5" y2="294.1" stroke="#606060" stroke-width="0.6"/>
<line x1="26.9" y1="290.7" x2="28.5" y2="290.7" stroke="#606060" stroke-width="0.6"/>
<line x1="26.9" y1="287.3" x2="28.5" y2="287.3" stroke="#606060" stroke-width="0.6"/>
<line x1="26.9" y1="283.9" x2="28.5" y2="283.9" stroke="#606060" stroke-width="0.6"/>
<line x1="26.9" y1="277.1" x2="28.5" y2="277.1" stroke="#606060" stroke-width="0.6"/>
<line x1="26.9" y1="273.7" x2="28.5" y2="273.7" stroke="#606060" stroke-width="0.6"/>
<line x1="26.9" y1="270.3" x2="28.5" y2="270.3" stroke="#606060" stroke-width="0.6"/>
<line x1="26.9" y1="266.9" x2="28.5" y2="266.9" stroke="#606060" stroke-width="0.6"/>
<line x1="26.9" y1="260.1" x2="28.5" y2="260.1" stroke="#606060" stroke-width="0.6"/>
<line x1="26.9" y1="256.7" x2="28.5" y2="256.7" stroke="#606060" stroke-width="0.6"/>
<line x1="26.9" y1="253.3" x2="28.5" y2="253.3" stroke="#606060" stroke-width="0.6"/>
<line x1="26.9" y1="249.9" x2="28.5" y2="249.9" stroke="#606060" stroke-width="0.6"/>
<line x1="26.9" y1="243.1" x2="28.5" y2="243.1" stroke="#606060" stroke-width="0.6"/>
<line x1="26.9" y1="239.7" x2="28.5" y2="239.7" stroke="#606060" stroke-width="0.6"/>
<line x1="26.9" y1="236.3" x2="28.5" y2="236.3" stroke="#606060" stroke-width="0.6"/>
<line x1="26.9" y1="232.9" x2="28.5" y2="232.9" stroke="#606060" stroke-width="0.6"/>
<line x1="26.9" y1="226.1" x2="28.5" y2="226.1" stroke="#606060" stroke-width="0.6"/>
<line x1="26.9" y1="222.7" x2="28.5" y2="222.7" stroke="#606060" stroke-width="0.6"/>
<line x1="26.9" y1="219.3" x2="28.5" y2="219.3" stroke="#606060" stroke-width="0.6"/>
<line x1="26.9" y1="215.9" x2="28.5" y2="215.9" stroke="#606060" stroke-width="0.6"/>
<line x1="26.9" y1="209.1" x2="28.5" y2="209.1" stroke="#606060" stroke-width="0.6"/>
<line x1="26.9" y1="205.7" x2="28.5" y2="205.7" stroke="#606060" stroke-width="0.6"/>
<line x1="26.9" y1="202.3" x2="28.5" y2="202.3" stroke="#606060" stroke-width="0.6"/>
<line x1="26.9" y1="198.9" x2="28.5" y2="198.9" stroke="#606060" stroke-width="0.6"/>
<line x1="26.9" y1="192.1" x2="28.5" y2="192.1" stroke="#606060" stroke-width="0.6"/>
<line x1="26.9" y1="188.7" x2="28.5" y2="188.7" stroke="#606060" stroke-width="0.6"/>
<line x1="26.9" y1="185.3" x2="28.5" y2="185.3" stroke="#606060" stroke-width="0.6"/>
<line x1="26.9" y1="181.9" x2="28.5" y2="181.9" stroke="#606060" stroke-width="0.6"/>
<line x1="28.5" y1="314.5" x2="28.5" y2="317" stroke="#606060" stroke-width="0.7"/>
<text x="28.5" y="326" font-family='"Liberation Serif", serif' font-size="7.4" text-anchor="middle" fill="#333">0</text>
<line x1="52.36" y1="314.5" x2="52.36" y2="317" stroke="#606060" stroke-width="0.7"/>
<text x="52.36" y="326" font-family='"Liberation Serif", serif' font-size="7.4" text-anchor="middle" fill="#333">50</text>
<line x1="76.23" y1="314.5" x2="76.23" y2="317" stroke="#606060" stroke-width="0.7"/>
<text x="76.23" y="326" font-family='"Liberation Serif", serif' font-size="7.4" text-anchor="middle" fill="#333">100</text>
<line x1="100.09" y1="314.5" x2="100.09" y2="317" stroke="#606060" stroke-width="0.7"/>
<text x="100.09" y="326" font-family='"Liberation Serif", serif' font-size="7.4" text-anchor="middle" fill="#333">150</text>
<line x1="123.96" y1="314.5" x2="123.96" y2="317" stroke="#606060" stroke-width="0.7"/>
<text x="123.96" y="326" font-family='"Liberation Serif", serif' font-size="7.4" text-anchor="middle" fill="#333">200</text>
<line x1="147.82" y1="314.5" x2="147.82" y2="317" stroke="#606060" stroke-width="0.7"/>
<text x="147.82" y="326" font-family='"Liberation Serif", serif' font-size="7.4" text-anchor="middle" fill="#333">250</text>
<line x1="171.69" y1="314.5" x2="171.69" y2="317" stroke="#606060" stroke-width="0.7"/>
<text x="171.69" y="326" font-family='"Liberation Serif", serif' font-size="7.4" text-anchor="middle" fill="#333">300</text>
<line x1="33.27" y1="314.5" x2="33.27" y2="316" stroke="#606060" stroke-width="0.6"/>
<line x1="38.05" y1="314.5" x2="38.05" y2="316" stroke="#606060" stroke-width="0.6"/>
<line x1="42.82" y1="314.5" x2="42.82" y2="316" stroke="#606060" stroke-width="0.6"/>
<line x1="47.59" y1="314.5" x2="47.59" y2="316" stroke="#606060" stroke-width="0.6"/>
<line x1="57.14" y1="314.5" x2="57.14" y2="316" stroke="#606060" stroke-width="0.6"/>
<line x1="61.91" y1="314.5" x2="61.91" y2="316" stroke="#606060" stroke-width="0.6"/>
<line x1="66.68" y1="314.5" x2="66.68" y2="316" stroke="#606060" stroke-width="0.6"/>
<line x1="71.46" y1="314.5" x2="71.46" y2="316" stroke="#606060" stroke-width="0.6"/>
<line x1="81" y1="314.5" x2="81" y2="316" stroke="#606060" stroke-width="0.6"/>
<line x1="85.78" y1="314.5" x2="85.78" y2="316" stroke="#606060" stroke-width="0.6"/>
<line x1="90.55" y1="314.5" x2="90.55" y2="316" stroke="#606060" stroke-width="0.6"/>
<line x1="95.32" y1="314.5" x2="95.32" y2="316" stroke="#606060" stroke-width="0.6"/>
<line x1="104.87" y1="314.5" x2="104.87" y2="316" stroke="#606060" stroke-width="0.6"/>
<line x1="109.64" y1="314.5" x2="109.64" y2="316" stroke="#606060" stroke-width="0.6"/>
<line x1="114.41" y1="314.5" x2="114.41" y2="316" stroke="#606060" stroke-width="0.6"/>
<line x1="119.19" y1="314.5" x2="119.19" y2="316" stroke="#606060" stroke-width="0.6"/>
<line x1="128.73" y1="314.5" x2="128.73" y2="316" stroke="#606060" stroke-width="0.6"/>
<line x1="133.51" y1="314.5" x2="133.51" y2="316" stroke="#606060" stroke-width="0.6"/>
<line x1="138.28" y1="314.5" x2="138.28" y2="316" stroke="#606060" stroke-width="0.6"/>
<line x1="143.05" y1="314.5" x2="143.05" y2="316" stroke="#606060" stroke-width="0.6"/>
<line x1="152.6" y1="314.5" x2="152.6" y2="316" stroke="#606060" stroke-width="0.6"/>
<line x1="157.37" y1="314.5" x2="157.37" y2="316" stroke="#606060" stroke-width="0.6"/>
<line x1="162.14" y1="314.5" x2="162.14" y2="316" stroke="#606060" stroke-width="0.6"/>
<line x1="166.92" y1="314.5" x2="166.92" y2="316" stroke="#606060" stroke-width="0.6"/>
<line x1="176.46" y1="314.5" x2="176.46" y2="316" stroke="#606060" stroke-width="0.6"/>
<line x1="181.24" y1="314.5" x2="181.24" y2="316" stroke="#606060" stroke-width="0.6"/>
<line x1="186.01" y1="314.5" x2="186.01" y2="316" stroke="#606060" stroke-width="0.6"/>
<line x1="190.78" y1="314.5" x2="190.78" y2="316" stroke="#606060" stroke-width="0.6"/>
<text transform="translate(12.8,247.3) rotate(-90)" font-family='"Liberation Sans", sans-serif' font-size="8.8" text-anchor="middle" fill="#1a1a1a">σ (MPa)</text>
<text x="110" y="335.6" font-family='"Liberation Sans", sans-serif' font-size="8.6" text-anchor="middle" fill="#222"><tspan font-style="italic">U</tspan><tspan font-size="5.5" dy="1.6">T</tspan><tspan dy="-1.6"> (MJ•m</tspan><tspan font-size="5.5" dy="-3.2">−3</tspan><tspan dy="3.2">)</tspan></text>
<circle cx="66.3" cy="195.3" r="2.0" fill="#777"/>
<circle cx="95" cy="194.2" r="2.0" fill="#777"/>
<circle cx="115" cy="191.3" r="2.0" fill="#777"/>
<circle cx="111.7" cy="197.2" r="2.0" fill="#777"/>
<circle cx="85.5" cy="222" r="2.0" fill="#777"/>
<rect x="69.0" y="234.5" width="3.6" height="3.6" fill="#6cc04a"/>
<path d="M142.8,227.6 L144.9,229.7 L142.8,231.8 L140.7,229.7 Z" fill="#6cc04a"/>
<path d="M113.3,239.0 L115.6,243.0 L111.0,243.0 Z" fill="#6cc04a"/>
<polygon points="156.3,190.4 157.04,192.18 158.96,192.33 157.5,193.59 157.95,195.47 156.3,194.46 154.65,195.47 155.1,193.59 153.64,192.33 155.56,192.18" fill="#e84a6a"/>
<rect x="119.5" y="260.8" width="66.3" height="41.4" fill="#fff" stroke="#888" stroke-width="0.6"/>
<circle cx="123.3" cy="265.3" r="1.6" fill="#777"/>
<path d="M123.3,271.6 L125.1,273.4 L123.3,275.2 L121.5,273.4 Z" fill="#6cc04a"/>
<rect x="121.7" y="279.9" width="3.2" height="3.2" fill="#6cc04a"/>
<path d="M123.3,287.7 L125.3,291.2 L121.3,291.2 Z" fill="#6cc04a"/>
<polygon points="123.3,295.8 123.83,297.07 125.2,297.18 124.16,298.08 124.48,299.42 123.3,298.7 122.12,299.42 122.44,298.08 121.4,297.18 122.77,297.07" fill="#e84a6a"/>
<text x="127.8" y="267.6" font-family='"Liberation Serif", serif' font-size="6.55" text-anchor="start" fill="#222">Side-chain polar POE</text>
<text x="127.8" y="275.7" font-family='"Liberation Serif", serif' font-size="6.55" text-anchor="start" fill="#222">Tang, 2024</text>
<text x="127.8" y="283.8" font-family='"Liberation Serif", serif' font-size="6.55" text-anchor="start" fill="#222">Miyake, 2023</text>
<text x="127.8" y="291.9" font-family='"Liberation Serif", serif' font-size="6.55" text-anchor="start" fill="#222">Chen, 2022</text>
<text x="127.8" y="300.1" font-family='"Liberation Serif", serif' font-size="6.55" text-anchor="start" fill="#222">This work</text>
<text x="198.5" y="177.8" font-family='"Liberation Sans", sans-serif' font-size="9" text-anchor="start" fill="#111" font-weight="bold">e</text>
<rect x="221.5" y="178.5" width="162" height="136" fill="none" stroke="#606060" stroke-width="1.0"/>
<line x1="218.1" y1="314.5" x2="221.5" y2="314.5" stroke="#606060" stroke-width="0.7"/>
<text x="216.6" y="316.9" font-family='"Liberation Serif", serif' font-size="6.7" text-anchor="end" fill="#333">0</text>
<line x1="218.1" y1="295.07" x2="221.5" y2="295.07" stroke="#606060" stroke-width="0.7"/>
<text x="216.6" y="297.47" font-family='"Liberation Serif", serif' font-size="6.7" text-anchor="end" fill="#333">1</text>
<line x1="218.1" y1="275.64" x2="221.5" y2="275.64" stroke="#606060" stroke-width="0.7"/>
<text x="216.6" y="278.04" font-family='"Liberation Serif", serif' font-size="6.7" text-anchor="end" fill="#333">2</text>
<line x1="218.1" y1="256.21" x2="221.5" y2="256.21" stroke="#606060" stroke-width="0.7"/>
<text x="216.6" y="258.61" font-family='"Liberation Serif", serif' font-size="6.7" text-anchor="end" fill="#333">3</text>
<line x1="218.1" y1="236.78" x2="221.5" y2="236.78" stroke="#606060" stroke-width="0.7"/>
<text x="216.6" y="239.18" font-family='"Liberation Serif", serif' font-size="6.7" text-anchor="end" fill="#333">4</text>
<line x1="218.1" y1="217.35" x2="221.5" y2="217.35" stroke="#606060" stroke-width="0.7"/>
<text x="216.6" y="219.75" font-family='"Liberation Serif", serif' font-size="6.7" text-anchor="end" fill="#333">5</text>
<line x1="218.1" y1="197.92" x2="221.5" y2="197.92" stroke="#606060" stroke-width="0.7"/>
<text x="216.6" y="200.32" font-family='"Liberation Serif", serif' font-size="6.7" text-anchor="end" fill="#333">6</text>
<line x1="218.1" y1="178.49" x2="221.5" y2="178.49" stroke="#606060" stroke-width="0.7"/>
<text x="216.6" y="180.89" font-family='"Liberation Serif", serif' font-size="6.7" text-anchor="end" fill="#333">7</text>
<line x1="219.3" y1="310.61" x2="221.5" y2="310.61" stroke="#606060" stroke-width="0.6"/>
<line x1="219.3" y1="306.73" x2="221.5" y2="306.73" stroke="#606060" stroke-width="0.6"/>
<line x1="219.3" y1="302.84" x2="221.5" y2="302.84" stroke="#606060" stroke-width="0.6"/>
<line x1="219.3" y1="298.96" x2="221.5" y2="298.96" stroke="#606060" stroke-width="0.6"/>
<line x1="219.3" y1="291.18" x2="221.5" y2="291.18" stroke="#606060" stroke-width="0.6"/>
<line x1="219.3" y1="287.3" x2="221.5" y2="287.3" stroke="#606060" stroke-width="0.6"/>
<line x1="219.3" y1="283.41" x2="221.5" y2="283.41" stroke="#606060" stroke-width="0.6"/>
<line x1="219.3" y1="279.53" x2="221.5" y2="279.53" stroke="#606060" stroke-width="0.6"/>
<line x1="219.3" y1="271.75" x2="221.5" y2="271.75" stroke="#606060" stroke-width="0.6"/>
<line x1="219.3" y1="267.87" x2="221.5" y2="267.87" stroke="#606060" stroke-width="0.6"/>
<line x1="219.3" y1="263.98" x2="221.5" y2="263.98" stroke="#606060" stroke-width="0.6"/>
<line x1="219.3" y1="260.1" x2="221.5" y2="260.1" stroke="#606060" stroke-width="0.6"/>
<line x1="219.3" y1="252.32" x2="221.5" y2="252.32" stroke="#606060" stroke-width="0.6"/>
<line x1="219.3" y1="248.44" x2="221.5" y2="248.44" stroke="#606060" stroke-width="0.6"/>
<line x1="219.3" y1="244.55" x2="221.5" y2="244.55" stroke="#606060" stroke-width="0.6"/>
<line x1="219.3" y1="240.67" x2="221.5" y2="240.67" stroke="#606060" stroke-width="0.6"/>
<line x1="219.3" y1="232.89" x2="221.5" y2="232.89" stroke="#606060" stroke-width="0.6"/>
<line x1="219.3" y1="229.01" x2="221.5" y2="229.01" stroke="#606060" stroke-width="0.6"/>
<line x1="219.3" y1="225.12" x2="221.5" y2="225.12" stroke="#606060" stroke-width="0.6"/>
<line x1="219.3" y1="221.24" x2="221.5" y2="221.24" stroke="#606060" stroke-width="0.6"/>
<line x1="219.3" y1="213.46" x2="221.5" y2="213.46" stroke="#606060" stroke-width="0.6"/>
<line x1="219.3" y1="209.58" x2="221.5" y2="209.58" stroke="#606060" stroke-width="0.6"/>
<line x1="219.3" y1="205.69" x2="221.5" y2="205.69" stroke="#606060" stroke-width="0.6"/>
<line x1="219.3" y1="201.81" x2="221.5" y2="201.81" stroke="#606060" stroke-width="0.6"/>
<line x1="219.3" y1="194.03" x2="221.5" y2="194.03" stroke="#606060" stroke-width="0.6"/>
<line x1="219.3" y1="190.15" x2="221.5" y2="190.15" stroke="#606060" stroke-width="0.6"/>
<line x1="219.3" y1="186.26" x2="221.5" y2="186.26" stroke="#606060" stroke-width="0.6"/>
<line x1="219.3" y1="182.38" x2="221.5" y2="182.38" stroke="#606060" stroke-width="0.6"/>
<line x1="261.7" y1="314.5" x2="261.7" y2="316.7" stroke="#606060" stroke-width="0.7"/>
<line x1="302.5" y1="314.5" x2="302.5" y2="316.7" stroke="#606060" stroke-width="0.7"/>
<line x1="343.3" y1="314.5" x2="343.3" y2="316.7" stroke="#606060" stroke-width="0.7"/>
<text transform="translate(210.3,240.5) rotate(-90)" font-family='"Liberation Sans", sans-serif' font-size="8.8" text-anchor="middle" fill="#1a1a1a">Stress (MPa)</text>
<rect x="227.5" y="246.5" width="12.9" height="68" fill="#4d9ad6"/>
<line x1="233.95" y1="242.03" x2="233.95" y2="250.96" stroke="#444" stroke-width="0.6"/>
<line x1="232.95" y1="242.03" x2="234.95" y2="242.03" stroke="#444" stroke-width="0.6"/>
<line x1="232.95" y1="250.96" x2="234.95" y2="250.96" stroke="#444" stroke-width="0.6"/>
<rect x="242.5" y="291.18" width="12.9" height="23.32" fill="#9b6ac4"/>
<line x1="248.95" y1="286.33" x2="248.95" y2="296.04" stroke="#444" stroke-width="0.6"/>
<line x1="247.95" y1="286.33" x2="249.95" y2="286.33" stroke="#444" stroke-width="0.6"/>
<line x1="247.95" y1="296.04" x2="249.95" y2="296.04" stroke="#444" stroke-width="0.6"/>
<text x="241.5" y="326.5" font-family='"Liberation Serif", serif' font-size="7.3" text-anchor="middle" fill="#333">Fe</text>
<rect x="268.1" y="226.68" width="12.9" height="87.82" fill="#4d9ad6"/>
<line x1="274.55" y1="220.85" x2="274.55" y2="232.51" stroke="#444" stroke-width="0.6"/>
<line x1="273.55" y1="220.85" x2="275.55" y2="220.85" stroke="#444" stroke-width="0.6"/>
<line x1="273.55" y1="232.51" x2="275.55" y2="232.51" stroke="#444" stroke-width="0.6"/>
<rect x="283.1" y="292.54" width="12.9" height="21.96" fill="#9b6ac4"/>
<line x1="289.55" y1="290.99" x2="289.55" y2="294.1" stroke="#444" stroke-width="0.6"/>
<line x1="288.55" y1="290.99" x2="290.55" y2="290.99" stroke="#444" stroke-width="0.6"/>
<line x1="288.55" y1="294.1" x2="290.55" y2="294.1" stroke="#444" stroke-width="0.6"/>
<text x="282.1" y="326.5" font-family='"Liberation Serif", serif' font-size="7.3" text-anchor="middle" fill="#333">FR4</text>
<rect x="308.9" y="196.95" width="12.9" height="117.55" fill="#4d9ad6"/>
<line x1="315.35" y1="192.67" x2="315.35" y2="201.22" stroke="#444" stroke-width="0.6"/>
<line x1="314.35" y1="192.67" x2="316.35" y2="192.67" stroke="#444" stroke-width="0.6"/>
<line x1="314.35" y1="201.22" x2="316.35" y2="201.22" stroke="#444" stroke-width="0.6"/>
<rect x="323.9" y="300.9" width="12.9" height="13.6" fill="#9b6ac4"/>
<line x1="330.35" y1="300.12" x2="330.35" y2="301.68" stroke="#444" stroke-width="0.6"/>
<line x1="329.35" y1="300.12" x2="331.35" y2="300.12" stroke="#444" stroke-width="0.6"/>
<line x1="329.35" y1="301.68" x2="331.35" y2="301.68" stroke="#444" stroke-width="0.6"/>
<text x="322.9" y="326.5" font-family='"Liberation Serif", serif' font-size="7.3" text-anchor="middle" fill="#333">EP</text>
<rect x="349.3" y="273.31" width="12.9" height="41.19" fill="#4d9ad6"/>
<line x1="355.75" y1="270.01" x2="355.75" y2="276.61" stroke="#444" stroke-width="0.6"/>
<line x1="354.75" y1="270.01" x2="356.75" y2="270.01" stroke="#444" stroke-width="0.6"/>
<line x1="354.75" y1="276.61" x2="356.75" y2="276.61" stroke="#444" stroke-width="0.6"/>
<rect x="364.3" y="297.79" width="12.9" height="16.71" fill="#9b6ac4"/>
<line x1="370.75" y1="294.1" x2="370.75" y2="301.48" stroke="#444" stroke-width="0.6"/>
<line x1="369.75" y1="294.1" x2="371.75" y2="294.1" stroke="#444" stroke-width="0.6"/>
<line x1="369.75" y1="301.48" x2="371.75" y2="301.48" stroke="#444" stroke-width="0.6"/>
<text x="363.3" y="326.5" font-family='"Liberation Serif", serif' font-size="7.3" text-anchor="middle" fill="#333">PC</text>
<rect x="334.2" y="189.8" width="5.6" height="6.0" fill="#4d9ad6"/>
<rect x="334.2" y="200.5" width="5.6" height="5.8" fill="#9b6ac4"/>
<text x="342.2" y="195.9" font-family='"Liberation Sans", sans-serif' font-size="8.4" fill="#222" text-anchor="start">H-POE<tspan font-size="6.2" dy="1.85">10.1</tspan></text>
<text x="342.2" y="206.5" font-family='"Liberation Sans", sans-serif' font-size="8.4" fill="#222" text-anchor="start">r-POE<tspan font-size="6.2" dy="1.85">10.3</tspan></text>
<defs><linearGradient id="ph_d1" x1="0" y1="0" x2="1" y2="1"><stop offset="0" stop-color="#3c3a3a"/><stop offset="1" stop-color="#5a5656"/></linearGradient><linearGradient id="ph_d2" x1="1" y1="0" x2="0" y2="1"><stop offset="0" stop-color="#5e5a58"/><stop offset="1" stop-color="#403c3c"/></linearGradient><linearGradient id="ph_ov" x1="0" y1="0" x2="1" y2="0"><stop offset="0" stop-color="#f2eed0"/><stop offset="0.5" stop-color="#f0e8b0"/><stop offset="1" stop-color="#f4e070"/></linearGradient></defs>
<rect x="330.8" y="211.6" width="34.4" height="50.6" fill="#4a4646"/>
<rect x="348.1" y="211.6" width="17.1" height="22.4" fill="url(#ph_d1)"/>
<rect x="330.8" y="240.4" width="17.3" height="21.8" fill="url(#ph_d2)"/>
<rect x="332.7" y="211.6" width="15.4" height="28.8" fill="#f0d41a"/>
<rect x="348.1" y="234.0" width="16.2" height="28.2" fill="#f2d418"/>
<rect x="332.7" y="233.2" width="31.6" height="7.2" fill="url(#ph_ov)"/>
<path d="M334,236 L338,234.5 L341,237.5 L345,234.5 L349,238 L353,235 L357,238.5 L361,235 L363,237 L363,239.5 L334,239.5 Z" fill="#fbf8e8" opacity="0.7"/>
<rect x="331.1" y="231.4" width="33.8" height="10.6" fill="none" stroke="#e02424" stroke-width="0.8" stroke-dasharray="1.5,1.1"/>
<text x="395.2" y="181" font-family='"Liberation Sans", sans-serif' font-size="9" text-anchor="start" fill="#111" font-weight="bold">f</text>
<defs><linearGradient id="sub1" x1="0" y1="0" x2="0" y2="1"><stop offset="0" stop-color="#4c4c4c"/><stop offset="0.3" stop-color="#545454"/><stop offset="0.7" stop-color="#4e4e4e"/><stop offset="1" stop-color="#444444"/></linearGradient><linearGradient id="sub2" x1="0" y1="0" x2="0" y2="1"><stop offset="0" stop-color="#1c1c1c"/><stop offset="1" stop-color="#202020"/></linearGradient><radialGradient id="drop1" cx="0.5" cy="1" r="1"><stop offset="0" stop-color="#3a3a3a"/><stop offset="0.6" stop-color="#262626"/><stop offset="1" stop-color="#1c1c1c"/></radialGradient><radialGradient id="refl1" cx="0.5" cy="0" r="0.7"><stop offset="0" stop-color="#8a8a8a"/><stop offset="1" stop-color="#4a4a4a" stop-opacity="0"/></radialGradient><filter id="blur1" x="-50%" y="-50%" width="200%" height="200%"><feGaussianBlur stdDeviation="1.2"/></filter><filter id="blur05" x="-50%" y="-50%" width="200%" height="200%"><feGaussianBlur stdDeviation="0.6"/></filter></defs>
<rect x="416.6" y="177.6" width="161.9" height="70.7" fill="#fbfbfb"/>
<g filter="url(#blur1)" opacity="0.8"><ellipse cx="436" cy="203.2" rx="6" ry="2.0" fill="#8a8a8a"/><ellipse cx="446" cy="201.8" rx="5" ry="2.8" fill="#777"/><ellipse cx="458" cy="202.6" rx="8" ry="2.2" fill="#888"/><ellipse cx="468" cy="203.5" rx="4" ry="1.8" fill="#999"/><ellipse cx="549" cy="202.4" rx="9" ry="2.6" fill="#8a8a8a"/><ellipse cx="561" cy="204.0" rx="6" ry="1.6" fill="#aaa"/><ellipse cx="425" cy="203.5" rx="4" ry="1.0" fill="#bbb"/></g>
<rect x="416.6" y="212.0" width="161.9" height="36.3" fill="url(#sub1)"/>
<rect x="416.6" y="209.6" width="161.9" height="2.4" fill="#e8e8e8"/>
<path d="M471.41,209.4 A35.0,35.0 0 0 1 541.19,209.4 Z" fill="url(#drop1)"/>
<ellipse cx="506.5" cy="212.5" rx="14" ry="4" fill="#777" filter="url(#blur1)" opacity="0.8"/>
<clipPath id="hl1"><rect x="490" y="190" width="35" height="19.4"/></clipPath>
<ellipse cx="507.0" cy="205.2" rx="10.6" ry="8.2" fill="#f6f6f6" clip-path="url(#hl1)"/>
<circle cx="506.3" cy="212.2" r="35.0" fill="none" stroke="#3a8cc4" stroke-width="0.6"/>
<line x1="416.6" y1="209.4" x2="578.5" y2="209.4" stroke="#58aee8" stroke-width="0.5"/>
<circle cx="457.3" cy="209.4" r="0.7" fill="#2a90e0"/><circle cx="538.2" cy="209.4" r="0.7" fill="#2a90e0"/>
<line x1="472.5" y1="189" x2="472.5" y2="209.4" stroke="#5cc85c" stroke-width="0.5"/>
<line x1="539.2" y1="189" x2="539.2" y2="209.4" stroke="#5cc85c" stroke-width="0.5"/>
<path d="M472.5,195.2 A14.2,14.2 0 0 1 486.7,209.4" fill="none" stroke="#3aa83a" stroke-width="0.45"/>
<path d="M539.2,195.2 A14.2,14.2 0 0 0 525.0,209.4" fill="none" stroke="#3aa83a" stroke-width="0.45"/>
<text x="471.6" y="208.3" font-family='"Liberation Sans", sans-serif' font-size="5.4" text-anchor="start" fill="#22dd22">85.0°</text>
<text x="526.2" y="208.3" font-family='"Liberation Sans", sans-serif' font-size="5.4" text-anchor="start" fill="#22dd22">84.5°</text>
<text x="421.5" y="189.2" font-family='"Liberation Sans", sans-serif' font-size="8.7" fill="#2a2a2a" text-anchor="start">H-POE<tspan font-size="6.3" dy="1.91">6.5</tspan></text>
<rect x="416.6" y="248.3" width="161.9" height="37.0" fill="#fdfdfd"/>
<rect x="416.6" y="285.3" width="161.9" height="30.8" fill="url(#sub2)"/>
<path d="M472.62,285.2 A32.8,32.8 0 1 1 538.18,285.2 Z" fill="#1e1e1e"/>
<clipPath id="hl2"><rect x="488" y="265" width="35" height="20.0"/></clipPath>
<ellipse cx="504.6" cy="280.2" rx="11.0" ry="8.1" fill="#fafafa" clip-path="url(#hl2)"/>
<circle cx="505.4" cy="284.2" r="32.8" fill="none" stroke="#2f7fb0" stroke-width="0.6"/>
<line x1="416.6" y1="285.1" x2="578.5" y2="285.1" stroke="#4a9ad8" stroke-width="0.5"/>
<line x1="471.8" y1="266.2" x2="471.8" y2="285.1" stroke="#5cc85c" stroke-width="0.5"/>
<line x1="538.6" y1="266.2" x2="538.6" y2="285.1" stroke="#5cc85c" stroke-width="0.5"/>
<path d="M471.8,271.1 A14,14 0 0 1 485.8,285.1" fill="none" stroke="#3aa83a" stroke-width="0.45"/>
<path d="M538.6,271.1 A14,14 0 0 0 524.6,285.1" fill="none" stroke="#3aa83a" stroke-width="0.45"/>
<text x="473.6" y="284.3" font-family='"Liberation Sans", sans-serif' font-size="5.4" text-anchor="start" fill="#22dd22">93.7°</text>
<text x="525.2" y="284.3" font-family='"Liberation Sans", sans-serif' font-size="5.4" text-anchor="start" fill="#22dd22">92.8°</text>
<text x="421.7" y="262.9" font-family='"Liberation Sans", sans-serif' font-size="8.7" fill="#1a1a1a" text-anchor="start">H-OBC<tspan font-size="6.3" dy="1.91">5.6</tspan></text>
<rect x="416.6" y="177.4" width="161.9" height="138.6" fill="none" stroke="#3a3a3a" stroke-width="0.9"/>
<defs><linearGradient id="jarbg" x1="0" y1="0" x2="0" y2="1"><stop offset="0" stop-color="#1a1818"/><stop offset="0.76" stop-color="#1c1a1a"/><stop offset="0.78" stop-color="#353333"/><stop offset="1" stop-color="#3a3838"/></linearGradient><linearGradient id="jarglass" x1="0" y1="0" x2="1" y2="0"><stop offset="0" stop-color="#e8e8e8"/><stop offset="0.1" stop-color="#a8a8a8"/><stop offset="0.5" stop-color="#8c8c8c"/><stop offset="0.9" stop-color="#a8a8a8"/><stop offset="1" stop-color="#e0e0e0"/></linearGradient><filter id="jb" x="-20%" y="-20%" width="140%" height="140%"><feGaussianBlur stdDeviation="0.7"/></filter></defs>
<rect x="6.9" y="389" width="40" height="85.5" fill="url(#jarbg)"/>
<rect x="13.6" y="400.5" width="24.6" height="7" rx="1.5" fill="#3a3a3a" stroke="#c8c8c8" stroke-width="0.8"/>
<line x1="14" y1="403" x2="38" y2="403" stroke="#9a9a9a" stroke-width="0.5"/><line x1="14" y1="405" x2="38" y2="405" stroke="#8a8a8a" stroke-width="0.5"/>
<rect x="12.4" y="406.8" width="28" height="63.7" rx="4" fill="url(#jarglass)" stroke="#cfcfcf" stroke-width="0.8"/>
<g filter="url(#jb)"><path d="M15,416 L19.5,413 L32,441 L27.5,444 Z" fill="#eaeaea" opacity="0.95"/><path d="M22,412 L26,411.5 L37,436 L33,439 Z" fill="#d4d4d4" opacity="0.9"/><path d="M14,430 L18.5,427 L31,452 L26,455 Z" fill="#eeeeee" opacity="0.95"/><path d="M29,418 L33.5,417 L36,433 L31.5,434 Z" fill="#cacaca" opacity="0.9"/><path d="M14,440 L20,437 L25,446 L18,450 Z" fill="#dcdcdc" opacity="0.9"/><path d="M14,449 L24,442 L34,444 L39,451 L39,462 L28,467 L16,465 L13.5,457 Z" fill="#f0f0f0" opacity="0.95"/><path d="M30,443 L38.5,441 L39.5,455 L33,457 Z" fill="#f6f6f6" opacity="0.95"/><path d="M17,408 L24,408 L22,414 L16,414 Z" fill="#c0c0c0" opacity="0.8"/></g>
<ellipse cx="26.4" cy="469" rx="13" ry="2" fill="none" stroke="#c8c8c8" stroke-width="0.8"/>
<text x="26.9" y="484.9" font-family='"Liberation Sans", sans-serif' font-size="8.6" fill="#222" text-anchor="middle">H-POE<tspan font-size="6.2" dy="1.89">10.1</tspan></text>
<text x="27.2" y="494.7" font-family='"Liberation Sans", sans-serif' font-size="8.6" text-anchor="middle" fill="#222">18 g</text>
<line x1="50" y1="437.5" x2="108.5" y2="437.5" stroke="#2a2a2a" stroke-width="0.9"/>
<path d="M112.6,437.5 L106.8,435.7 L106.8,439.3 Z" fill="#222"/>
<text x="50" y="433.6" font-family='"Liberation Sans", sans-serif' font-size="8.6" fill="#222">1. [Mn] cat., H<tspan font-size="6.2" dy="1.9">2</tspan></text>
<text x="50" y="447" font-family='"Liberation Sans", sans-serif' font-size="8.6" text-anchor="start" fill="#222">2. MeOH, HCl</text>
<rect x="112.5" y="429.5" width="40" height="18" fill="#fff" stroke="#2a2a2a" stroke-width="0.9"/>
<text x="132.6" y="441.6" font-family='"Liberation Sans", sans-serif' font-size="8.6" text-anchor="middle" fill="#222">Filtration</text>
<line x1="152.5" y1="438.5" x2="167.5" y2="438.5" stroke="#2a2a2a" stroke-width="0.9"/>
<path d="M167.5,400.5 L167.5,476.5" stroke="#2a2a2a" stroke-width="0.9" fill="none"/>
<line x1="167.05" y1="400.5" x2="262.5" y2="400.5" stroke="#2a2a2a" stroke-width="0.9"/>
<path d="M266.9,400.5 L261.1,398.7 L261.1,402.3 Z" fill="#222"/>
<text x="171" y="396" font-family='"Liberation Sans", sans-serif' font-size="8.6" text-anchor="start" fill="#222">Crystallization of filtrate</text>
<line x1="167.05" y1="476.5" x2="312.5" y2="476.5" stroke="#2a2a2a" stroke-width="0.9"/>
<path d="M316.9,476.5 L311.1,474.7 L311.1,478.3 Z" fill="#222"/>
<text x="178.3" y="488.3" font-family='"Liberation Sans", sans-serif' font-size="8.6" text-anchor="start" fill="#222">Washing filter residue with MeOH</text>
<rect x="268.2" y="375.1" width="23.8" height="48.1" fill="#6e6c6c"/>
<rect x="268.2" y="415" width="23.8" height="8.2" fill="#5e5c5c"/>
<rect x="272.2" y="388" width="16.2" height="33" rx="2" fill="#c8c8c8" stroke="#e0e0e0" stroke-width="0.6"/>
<path d="M273,396 Q276,393 279,397 Q282,400 287,395 L287,400 Q283,404 279,401.5 Q276,399 273,402 Z" fill="#a0a0a0" opacity="0.6"/>
<path d="M272.8,410 Q276,407.5 280,409 Q284,407 287.8,409.5 L287.8,419 Q287.8,421 285.8,421 L274.8,421 Q272.8,421 272.8,419 Z" fill="#eeeeee"/>
<rect x="272.8" y="378.8" width="15" height="9.4" rx="1" fill="#1e1e1e"/>
<rect x="274.5" y="379.5" width="1.6" height="8" fill="#4a4a4a"/><rect x="283" y="379.5" width="1.2" height="8" fill="#3a3a3a"/>
<text x="280.7" y="433.7" font-family='"Liberation Sans", sans-serif' font-size="8.6" text-anchor="middle" fill="#222">HMDA·HCl</text>
<text x="280.5" y="443.5" font-family='"Liberation Sans", sans-serif' font-size="8.6" text-anchor="middle" fill="#222">672.8 mg</text>
<text x="280.5" y="452.9" font-family='"Liberation Sans", sans-serif' font-size="8.6" text-anchor="middle" fill="#222">95% yield</text>
<line x1="293.3" y1="400.5" x2="321.5" y2="400.5" stroke="#2a2a2a" stroke-width="0.9"/>
<path d="M325.3,400.5 L319.5,398.7 L319.5,402.3 Z" fill="#222"/>
<text x="296.1" y="395.5" font-family='"Liberation Sans", sans-serif' font-size="6.3" fill="#222"><tspan font-style="italic">ref.</tspan> 51</text>
<text x="329.6" y="403.2" font-family='"Liberation Sans", sans-serif' font-size="6.4" text-anchor="start" fill="#1a1a1a">HDI</text>
<path d="M346.5,400.5 L366.5,400.5 L366.5,476.5 L346.5,476.5" stroke="#2a2a2a" stroke-width="0.9" fill="none"/>
<line x1="366.5" y1="438.5" x2="413" y2="438.5" stroke="#2a2a2a" stroke-width="0.9"/>
<path d="M417.6,438.5 L411.8,436.7 L411.8,440.3 Z" fill="#222"/>
<text x="392.2" y="435.5" font-family='"Liberation Sans", sans-serif' font-size="8.6" text-anchor="middle" fill="#222">DBDTL</text>
<text x="392.3" y="448.4" font-family='"Liberation Sans", sans-serif' font-size="8.6" text-anchor="middle" fill="#222">80 <tspan font-size="6" dy="-3">o</tspan><tspan dy="3">C</tspan></text>
<defs><linearGradient id="tvbg" x1="0" y1="0" x2="0" y2="1"><stop offset="0" stop-color="#3e3c3c"/><stop offset="0.76" stop-color="#454343"/><stop offset="0.8" stop-color="#5e5c5c"/><stop offset="1" stop-color="#6e6c6c"/></linearGradient></defs>
<rect x="322" y="444.3" width="21.1" height="63.7" fill="url(#tvbg)"/>
<rect x="325.0" y="448.6" width="15.9" height="9.4" rx="2.2" fill="#7c7c7c"/>
<rect x="325.0" y="448.6" width="15.9" height="2.6" rx="1.2" fill="#a6a6a6"/>
<rect x="325.8" y="457.6" width="14.3" height="48.2" rx="2.8" fill="#f1f1ed"/>
<text x="365" y="487.9" font-family='"Liberation Sans", sans-serif' font-size="8.6" text-anchor="middle" fill="#222"><tspan font-style="italic">t</tspan>POE<tspan font-size="6.2" dy="1.9">10.1</tspan></text>
<text x="365.5" y="497.4" font-family='"Liberation Sans", sans-serif' font-size="8.6" text-anchor="middle" fill="#222">16.7 g</text>
<text x="365.2" y="507.2" font-family='"Liberation Sans", sans-serif' font-size="8.6" text-anchor="middle" fill="#222">96% yield</text>
<defs><linearGradient id="rcbg" x1="0" y1="0" x2="1" y2="0"><stop offset="0" stop-color="#ececec"/><stop offset="0.08" stop-color="#f6f6f6"/><stop offset="0.5" stop-color="#f9f9f9"/><stop offset="0.92" stop-color="#f8f8f8"/><stop offset="1" stop-color="#f0f0f0"/></linearGradient></defs>
<rect x="419.8" y="391.8" width="178.1" height="93.4" fill="url(#rcbg)"/>
<path d="M433.5,398.8 L445.7,398.8 L445.7,417.4 C445.7,421 442.1,420.6 442.1,424.2 L442.1,443.6 C442.1,447.2 445.7,446.8 445.7,450.4 L445.7,470.1 L433.5,470.1 L433.5,450.4 C433.5,446.8 437.1,447.2 437.1,443.6 L437.1,424.2 C437.1,420.6 433.5,421 433.5,417.4 Z" fill="#f0f0f0" stroke="#c6c6c6" stroke-width="0.7"/>
<path d="M449,398.8 L461.2,398.8 L461.2,417.4 C461.2,421 457.6,420.6 457.6,424.2 L457.6,443.6 C457.6,447.2 461.2,446.8 461.2,450.4 L461.2,470.1 L449,470.1 L449,450.4 C449,446.8 452.6,447.2 452.6,443.6 L452.6,424.2 C452.6,420.6 449,421 449,417.4 Z" fill="#f0f0f0" stroke="#c6c6c6" stroke-width="0.7"/>
<path d="M464.2,398.8 L476.4,398.8 L476.4,417.4 C476.4,421 472.8,420.6 472.8,424.2 L472.8,443.6 C472.8,447.2 476.4,446.8 476.4,450.4 L476.4,470.1 L464.2,470.1 L464.2,450.4 C464.2,446.8 467.8,447.2 467.8,443.6 L467.8,424.2 C467.8,420.6 464.2,421 464.2,417.4 Z" fill="#f0f0f0" stroke="#c6c6c6" stroke-width="0.7"/>
<path d="M529.8,399.1 L541.8,399.1 L541.8,417.7 C541.8,421.3 538.3,420.9 538.3,424.5 L538.3,443.7 C538.3,447.3 541.8,446.9 541.8,450.5 L541.8,470.2 L529.8,470.2 L529.8,450.5 C529.8,446.9 533.3,447.3 533.3,443.7 L533.3,424.5 C533.3,420.9 529.8,421.3 529.8,417.7 Z" fill="#fcfcfc" stroke="#c6c6c6" stroke-width="0.7"/>
<path d="M544.8,399.1 L556.8,399.1 L556.8,417.7 C556.8,421.3 553.3,420.9 553.3,424.5 L553.3,443.7 C553.3,447.3 556.8,446.9 556.8,450.5 L556.8,470.2 L544.8,470.2 L544.8,450.5 C544.8,446.9 548.3,447.3 548.3,443.7 L548.3,424.5 C548.3,420.9 544.8,421.3 544.8,417.7 Z" fill="#fcfcfc" stroke="#c6c6c6" stroke-width="0.7"/>
<path d="M559.4,399.1 L571.4,399.1 L571.4,417.7 C571.4,421.3 567.9,420.9 567.9,424.5 L567.9,443.7 C567.9,447.3 571.4,446.9 571.4,450.5 L571.4,470.2 L559.4,470.2 L559.4,450.5 C559.4,446.9 562.9,447.3 562.9,443.7 L562.9,424.5 C562.9,420.9 559.4,421.3 559.4,417.7 Z" fill="#fcfcfc" stroke="#c6c6c6" stroke-width="0.7"/>
<text x="435.5" y="440.2" font-family='"Liberation Serif", serif' font-size="14.5" textLength="33.5" lengthAdjust="spacingAndGlyphs" fill="#5c5c5c" font-style="italic">recycle</text>
<text x="476.6" y="438.6" font-family='"Liberation Serif", serif' font-size="13.5" fill="#5c5c5c" font-style="italic">1</text>
<text x="536.0" y="440.4" font-family='"Liberation Serif", serif' font-size="14.5" textLength="32.6" lengthAdjust="spacingAndGlyphs" fill="#5c5c5c" font-style="italic">recycle</text>
<text x="582.4" y="441.0" font-family='"Liberation Serif", serif' font-size="13.5" fill="#5c5c5c" font-style="italic">2</text>
<defs><radialGradient id="ringg" cx="506.6" cy="434.6" r="22.4" gradientUnits="userSpaceOnUse"><stop offset="0.78" stop-color="#a8bcf2"/><stop offset="0.9" stop-color="#7090e4"/><stop offset="1" stop-color="#4e70d8"/></radialGradient></defs>
<path d="M525.5,442.0 A20.4,20.4 0 1 1 526.6,431.5" fill="none" stroke="url(#ringg)" stroke-width="3.8"/>
<path d="M523.6,432.0 L531.2,432.0 L527.4,437.6 Z" fill="#5576da"/>
<text x="506.4" y="438.1" font-family='"Liberation Sans", sans-serif' font-size="8.8" font-weight="bold" font-style="italic" text-anchor="middle" fill="#4a6fd0">Recycle</text>
<text x="427.9" y="477.8" font-family='"Liberation Sans", sans-serif' font-size="8.3" fill="#222" text-anchor="start">H-POE<tspan font-size="6" dy="1.83">10.1</tspan></text>
<text x="488.2" y="477.8" font-family='"Liberation Sans", sans-serif' font-size="8.3" text-anchor="end" fill="#222">RP-1</text>
<text x="523.7" y="477.8" font-family='"Liberation Sans", sans-serif' font-size="8.3" fill="#222" text-anchor="start">H-POE<tspan font-size="6" dy="1.83">10.1</tspan></text>
<text x="584.4" y="477.8" font-family='"Liberation Sans", sans-serif' font-size="8.3" text-anchor="end" fill="#222">RP-2</text>
</svg>
</body></html>
